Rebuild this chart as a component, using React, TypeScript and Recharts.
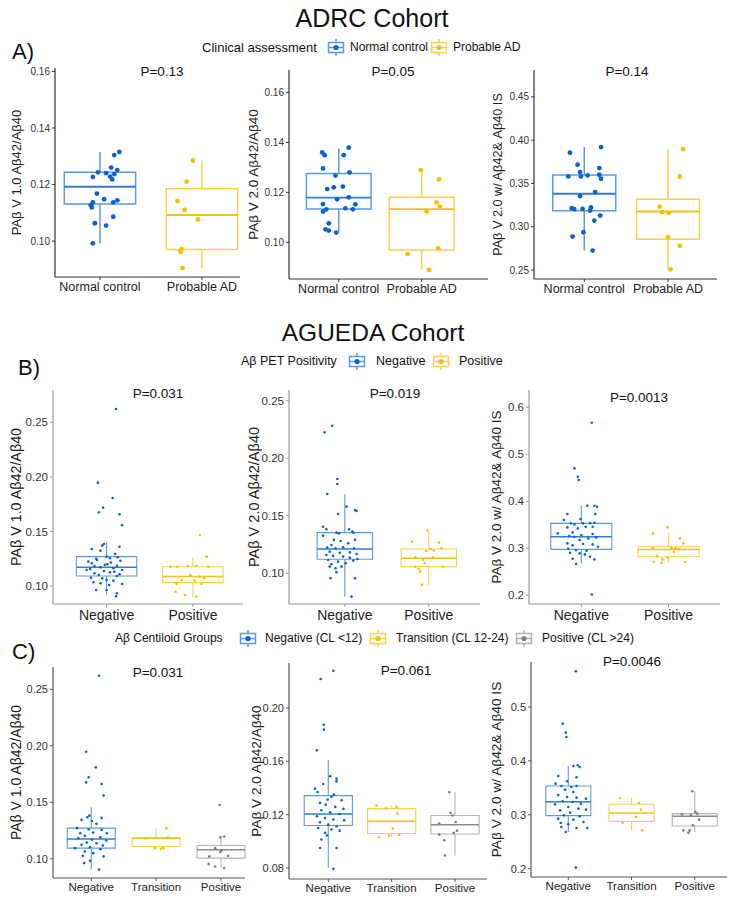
import React from 'react'
import { ComposedChart, XAxis, YAxis, Scatter, ReferenceArea, ReferenceLine } from 'recharts'

const FONT = '"Liberation Sans", Arial, Helvetica, sans-serif'

const BLUE = { pt: '#0b62cc', box: '#5a9be2', med: '#2f7dd6' }
const YELLOW = { pt: '#f6c000', box: '#f8d24f', med: '#f3c21c' }
const GREY = { pt: '#7d7d7d', box: '#b3b3b3', med: '#8a8a8a' }

// categories
const adrcGroups = ['Normal control', 'Probable AD']
const petGroups = ['Negative', 'Positive']
const clGroups = ['Negative', 'Transition', 'Positive']

// y labels
const labV1 = 'PAβ V 1.0 Aβ42/Aβ40'
const labV2 = 'PAβ V 2.0 Aβ42/Aβ40'
const labIS = 'PAβ V 2.0 w/ Aβ42& Aβ40 IS'

// y ticks
const ticksA12 = [0.1, 0.12, 0.14, 0.16]
const ticksA3 = [0.25, 0.3, 0.35, 0.4, 0.45]
const ticksB12 = [0.1, 0.15, 0.2, 0.25]
const ticksB3 = [0.2, 0.3, 0.4, 0.5, 0.6]
const ticksC1 = [0.1, 0.15, 0.2, 0.25]
const ticksC2 = [0.08, 0.12, 0.16, 0.2]
const ticksC3 = [0.2, 0.3, 0.4, 0.5]

// p values
const pA = ['P=0.13', 'P=0.05', 'P=0.14']
const pB = ['P=0.031', 'P=0.019', 'P=0.0013']
const pC = ['P=0.031', 'P=0.061', 'P=0.0046']

// box stats: [lower whisker, q1, median, q3, upper whisker]
// points: [jitter offset, value]

// ---- A1
const a1NcBox = [0.0992, 0.1131, 0.1192, 0.1243, 0.1315]
const a1NcPts: [number, number][] = [
  [0.19, 0.1315], [0.14, 0.1304], [0.11, 0.126], [0.17, 0.1251], [-0.02, 0.1243], [0.06, 0.124],
  [0.14, 0.1237], [0.1, 0.1228], [-0.07, 0.1227], [0.12, 0.1218], [-0.03, 0.1168], [0.04, 0.1148],
  [0.17, 0.1144], [0.13, 0.1137], [-0.07, 0.1137], [-0.09, 0.1127], [-0.08, 0.1119], [0.13, 0.1086],
  [-0.05, 0.1063], [0.06, 0.1055], [-0.07, 0.0992],
]
const a1AdBox = [0.0905, 0.097, 0.1092, 0.1185, 0.1285]
const a1AdPts: [number, number][] = [
  [-0.09, 0.1285], [-0.15, 0.121], [-0.24, 0.1142], [-0.17, 0.111], [-0.04, 0.1077],
  [-0.2, 0.0972], [-0.21, 0.0962], [-0.19, 0.0905],
]

// ---- A2
const a2NcBox = [0.1043, 0.1133, 0.1179, 0.1276, 0.1376]
const a2NcPts: [number, number][] = [
  [-0.2, 0.136], [-0.17, 0.1349], [0.12, 0.1379], [0.06, 0.1349], [-0.19, 0.1296], [0.13, 0.128],
  [-0.04, 0.1267], [-0.06, 0.122], [-0.14, 0.1213], [0.05, 0.1223], [0.12, 0.118], [-0.02, 0.1172],
  [-0.19, 0.1153], [0.2, 0.1152], [0.08, 0.1136], [0.17, 0.1132], [-0.15, 0.1132], [-0.19, 0.1123],
  [-0.12, 0.1076], [-0.16, 0.1052], [-0.12, 0.1047], [-0.03, 0.1039],
]
const a2AdBox = [0.0892, 0.0969, 0.1133, 0.118, 0.1289]
const a2AdPts: [number, number][] = [
  [-0.01, 0.1289], [0.21, 0.1252], [0.18, 0.1159], [0.22, 0.1143], [0.06, 0.1123],
  [0.2, 0.0976], [-0.17, 0.0953], [0.09, 0.0889],
]

// ---- A3
const a3NcBox = [0.2724, 0.3183, 0.338, 0.3596, 0.392]
const a3NcPts: [number, number][] = [
  [0.1, 0.2724], [-0.01, 0.2936], [-0.14, 0.2886], [0.12, 0.3071], [0.19, 0.3129], [-0.12, 0.3203],
  [-0.15, 0.3214], [-0.02, 0.3207], [0.08, 0.3222], [0.07, 0.3187], [-0.05, 0.3353], [0.13, 0.34],
  [-0.19, 0.3581], [-0.04, 0.3581], [0.04, 0.3593], [0.18, 0.36], [0.2, 0.3554], [-0.05, 0.3631],
  [-0.08, 0.3716], [0.18, 0.3677], [-0.17, 0.3855], [0.2, 0.392],
]
const a3AdBox = [0.2508, 0.2855, 0.3176, 0.3318, 0.3897]
const a3AdPts: [number, number][] = [
  [0.18, 0.3897], [0.14, 0.358], [-0.1, 0.3233], [-0.07, 0.3168], [0.01, 0.316],
  [0.0, 0.2878], [0.14, 0.2778], [0.03, 0.2508],
]

// ---- B1
const b1NegBox = [0.0918, 0.1092, 0.1171, 0.1269, 0.1397]
const b1NegPts: [number, number][] = [
  [0.11, 0.2622], [-0.1, 0.1947], [0.07, 0.1807], [-0.04, 0.1718], [-0.09, 0.1675], [0.15, 0.1657],
  [0.18, 0.1556], [-0.03, 0.1385], [-0.05, 0.137], [0.15, 0.136], [-0.17, 0.1339], [-0.07, 0.1324],
  [0.1, 0.1293], [0.0, 0.1269], [0.13, 0.1263], [0.04, 0.1254], [-0.11, 0.1238], [-0.21, 0.1223],
  [-0.17, 0.1208], [0.16, 0.1232], [-0.14, 0.1183], [-0.07, 0.1171], [0.08, 0.1162], [0.12, 0.1186],
  [0.01, 0.1199], [0.18, 0.1147], [-0.23, 0.1147], [-0.03, 0.1137], [0.04, 0.1125], [-0.14, 0.1116],
  [-0.09, 0.1101], [0.12, 0.1092], [-0.18, 0.1076], [-0.05, 0.107], [0.0, 0.1055], [0.08, 0.1049],
  [0.18, 0.1018], [-0.15, 0.1034], [-0.07, 0.1024], [0.03, 0.1009], [-0.12, 0.0963], [0.0, 0.0963],
  [0.12, 0.0933], [0.11, 0.0905], [0.05, 0.1215], [-0.19, 0.1155], [0.15, 0.1108], [-0.02, 0.1195],
  [0.09, 0.113], [-0.12, 0.125],
]
const b1PosBox = [0.0896, 0.1031, 0.1086, 0.1177, 0.1263]
const b1PosPts: [number, number][] = [
  [0.08, 0.1467], [0.16, 0.1269], [-0.18, 0.1177], [-0.06, 0.1183], [0.04, 0.1186], [0.18, 0.1177],
  [-0.26, 0.1177], [-0.03, 0.1101], [0.08, 0.1086], [0.13, 0.107], [-0.13, 0.1055], [0.02, 0.1049],
  [-0.19, 0.1018], [0.1, 0.1018], [-0.2, 0.0948], [-0.09, 0.0918], [0.04, 0.0902],
]

// ---- B2
const b2NegBox = [0.0797, 0.1122, 0.1211, 0.1353, 0.1689]
const b2NegPts: [number, number][] = [
  [-0.15, 0.2282], [-0.24, 0.2225], [-0.09, 0.1819], [-0.09, 0.1776], [-0.21, 0.1689], [0.02, 0.1579],
  [0.12, 0.155], [0.14, 0.1541], [-0.08, 0.1515], [-0.26, 0.1405], [-0.22, 0.1382], [0.05, 0.1382],
  [0.09, 0.1362], [-0.1, 0.1353], [-0.07, 0.1347], [0.1, 0.1353], [0.12, 0.129], [-0.13, 0.129],
  [-0.26, 0.1327], [-0.05, 0.1281], [-0.16, 0.1246], [0.04, 0.1261], [-0.21, 0.1223], [-0.11, 0.1217],
  [-0.02, 0.1226], [0.11, 0.1217], [-0.18, 0.1188], [-0.06, 0.1179], [0.06, 0.1182], [0.14, 0.1168],
  [-0.22, 0.1159], [-0.14, 0.1151], [-0.02, 0.1145], [0.06, 0.1136], [0.15, 0.1124], [-0.2, 0.1116],
  [-0.08, 0.1101], [0.01, 0.1087], [-0.16, 0.1078], [-0.04, 0.1058], [-0.11, 0.1043], [-0.18, 0.1058],
  [0.1, 0.111], [-0.1, 0.1009], [-0.17, 0.0957], [0.12, 0.0957], [0.08, 0.0797],
]
const b2PosBox = [0.0899, 0.1058, 0.113, 0.1211, 0.1376]
const b2PosPts: [number, number][] = [
  [-0.02, 0.1371], [-0.2, 0.1275], [0.12, 0.1266], [0.02, 0.1211], [0.06, 0.1197], [-0.03, 0.1194],
  [0.15, 0.1217], [-0.16, 0.1139], [0.05, 0.1139], [-0.07, 0.1116], [-0.05, 0.1087], [-0.16, 0.1058],
  [-0.12, 0.1038], [0.17, 0.1058], [-0.1, 0.1014], [-0.08, 0.0899],
]

// ---- B3
const b3NegBox = [0.2675, 0.2973, 0.3243, 0.3528, 0.3904]
const b3NegPts: [number, number][] = [
  [0.12, 0.5673], [-0.08, 0.47], [-0.04, 0.4522], [-0.03, 0.4451], [0.07, 0.3904], [0.15, 0.3904],
  [0.18, 0.3883], [-0.16, 0.3727], [0.16, 0.3727], [-0.01, 0.362], [-0.2, 0.3599], [-0.12, 0.3528],
  [-0.08, 0.3506], [0.02, 0.3528], [0.1, 0.3528], [0.15, 0.3542], [-0.16, 0.3442], [-0.04, 0.3421],
  [0.05, 0.3457], [0.13, 0.3457], [-0.27, 0.3314], [-0.1, 0.3336], [0.0, 0.3279], [0.13, 0.33],
  [-0.14, 0.3258], [-0.08, 0.3243], [0.08, 0.3208], [0.17, 0.3229], [-0.02, 0.3172], [-0.16, 0.3101],
  [0.02, 0.3087], [0.13, 0.308], [-0.1, 0.3059], [0.19, 0.303], [-0.15, 0.2988], [-0.06, 0.2959],
  [0.06, 0.2945], [-0.02, 0.2888], [-0.13, 0.2902], [0.04, 0.2867], [0.1, 0.2817], [-0.1, 0.2774],
  [0.15, 0.276], [-0.06, 0.2661], [0.12, 0.2014],
]
const b3PosBox = [0.2689, 0.2817, 0.2973, 0.303, 0.3314]
const b3PosPts: [number, number][] = [
  [-0.01, 0.3442], [-0.18, 0.3314], [0.13, 0.3208], [0.17, 0.3101], [-0.18, 0.3], [0.03, 0.3009],
  [0.08, 0.3], [0.06, 0.2924], [0.12, 0.2981], [-0.13, 0.2831], [-0.01, 0.2803], [-0.17, 0.2711],
  [-0.08, 0.2689], [0.19, 0.2711], [-0.07, 0.276],
]

// ---- C1
const c1NegBox = [0.0905, 0.1094, 0.1176, 0.1271, 0.1456]
const c1NegPts: [number, number][] = [
  [0.12, 0.262], [-0.08, 0.1947], [0.07, 0.1809], [-0.04, 0.1721], [-0.08, 0.1676], [0.16, 0.1662],
  [0.19, 0.1559], [-0.03, 0.1382], [-0.06, 0.1368], [0.16, 0.1362], [-0.15, 0.1344], [0.01, 0.1335],
  [0.08, 0.1309], [-0.22, 0.1271], [-0.04, 0.1262], [0.16, 0.1256], [-0.17, 0.1226], [0.03, 0.1232],
  [0.24, 0.1226], [-0.1, 0.1203], [0.14, 0.1191], [-0.2, 0.1182], [0.01, 0.1168], [0.23, 0.1162],
  [-0.07, 0.1144], [0.08, 0.1138], [-0.15, 0.1124], [0.18, 0.1118], [-0.02, 0.1103], [-0.25, 0.1094],
  [0.14, 0.1085], [-0.1, 0.1065], [0.03, 0.105], [0.19, 0.1021], [-0.13, 0.1026], [-0.02, 0.0982],
  [-0.11, 0.0962], [0.12, 0.0905],
]
const c1TrBox = [0.1088, 0.1109, 0.1182, 0.1188, 0.1271]
const c1TrPts: [number, number][] = [
  [0.16, 0.1271], [-0.16, 0.1182], [0.18, 0.1188], [-0.02, 0.1094], [0.07, 0.1088], [0.11, 0.1094],
]
const c1PosBox = [0.0918, 0.1006, 0.1079, 0.1118, 0.1197]
const c1PosPts: [number, number][] = [
  [-0.02, 0.1476], [-0.01, 0.1191], [0.05, 0.1197], [-0.09, 0.1094], [0.01, 0.1074], [-0.01, 0.1059],
  [0.11, 0.1026], [-0.18, 0.1021], [-0.19, 0.0953], [-0.09, 0.0932], [0.05, 0.0918],
]

// ---- C2
const c2NegBox = [0.08, 0.1118, 0.1205, 0.1343, 0.1608]
const c2NegPts: [number, number][] = [
  [0.08, 0.228], [-0.12, 0.2218], [-0.07, 0.1875], [-0.07, 0.1838], [-0.18, 0.1683], [0.03, 0.1488],
  [0.13, 0.147], [0.13, 0.145], [-0.08, 0.143], [-0.21, 0.1395], [-0.17, 0.137], [0.09, 0.135],
  [0.05, 0.1333], [-0.01, 0.1313], [0.21, 0.1308], [-0.13, 0.1288], [-0.04, 0.1275], [0.11, 0.1258],
  [0.24, 0.1243], [-0.11, 0.1233], [0.03, 0.1218], [0.18, 0.1205], [-0.18, 0.1188], [-0.05, 0.1175],
  [0.08, 0.1163], [0.25, 0.1158], [-0.13, 0.1143], [0.0, 0.1125], [0.13, 0.1113], [-0.16, 0.11],
  [0.05, 0.1088], [0.18, 0.108], [-0.05, 0.1063], [-0.02, 0.1043], [-0.11, 0.1013], [-0.13, 0.095],
  [0.13, 0.095], [0.08, 0.0793],
]
const c2TrBox = [0.103, 0.1058, 0.115, 0.1245, 0.1268]
const c2TrPts: [number, number][] = [
  [-0.24, 0.1268], [0.08, 0.1258], [0.09, 0.1208], [-0.09, 0.1248], [0.02, 0.1095], [-0.2, 0.103],
  [-0.04, 0.1043], [0.12, 0.105],
]
const c2PosBox = [0.0893, 0.1055, 0.1125, 0.1193, 0.137]
const c2PosPts: [number, number][] = [
  [-0.09, 0.1368], [-0.07, 0.1213], [-0.04, 0.1193], [-0.25, 0.1133], [0.01, 0.1145], [-0.25, 0.105],
  [-0.02, 0.1063], [0.03, 0.108], [-0.17, 0.1008], [-0.16, 0.0893],
]

// ---- C3
const c3NegBox = [0.268, 0.2984, 0.3243, 0.3534, 0.3905]
const c3NegPts: [number, number][] = [
  [0.12, 0.5662], [-0.09, 0.4691], [-0.04, 0.4524], [-0.03, 0.4443], [0.15, 0.3918], [0.08, 0.3905],
  [0.18, 0.3887], [-0.16, 0.372], [0.13, 0.3695], [-0.02, 0.3621], [-0.2, 0.3577], [-0.11, 0.3534],
  [0.05, 0.3516], [0.13, 0.3534], [-0.05, 0.3466], [0.08, 0.3423], [-0.16, 0.3367], [-0.02, 0.333],
  [0.13, 0.3318], [0.28, 0.3299], [-0.09, 0.325], [0.07, 0.3237], [0.2, 0.3206], [-0.21, 0.3194],
  [0.0, 0.3144], [0.16, 0.3113], [-0.13, 0.3083], [0.28, 0.3095], [0.03, 0.3039], [-0.07, 0.299],
  [0.18, 0.2971], [-0.16, 0.2928], [0.08, 0.2909], [-0.12, 0.2848], [0.0, 0.2823], [0.24, 0.2866],
  [-0.11, 0.2773], [0.13, 0.2755], [0.3, 0.2755], [-0.04, 0.268], [0.12, 0.2019],
]
const c3TrBox = [0.2711, 0.2878, 0.3033, 0.3194, 0.3311]
const c3TrPts: [number, number][] = [
  [-0.18, 0.3311], [0.12, 0.3219], [0.15, 0.3095], [0.07, 0.2959], [-0.14, 0.2854], [0.17, 0.2711],
]
const c3PosBox = [0.268, 0.2792, 0.2971, 0.3021, 0.3435]
const c3PosPts: [number, number][] = [
  [-0.04, 0.3435], [0.01, 0.3052], [0.04, 0.3021], [-0.2, 0.3008], [-0.06, 0.299], [0.07, 0.2909],
  [-0.03, 0.2804], [-0.18, 0.2711], [-0.08, 0.2711], [-0.1, 0.2668],
]

type Geo = { labelX: number; plotLeft: number; plotRight: number; plotTop: number; plotBottom: number }
type Grp = { box: number[]; pts: [number, number][]; col: { pt: string; box: string; med: string } }

type PanelProps = {
  geo: Geo
  cats: string[]
  xDomain: [number, number]
  yDomain: [number, number]
  yTicks: number[]
  dec: number
  yLabel: string
  labelSize: number
  tickFont: number
  catFont: number
  catMargin: number
  axisColor: string
  hw: number
  groups: Grp[]
  ptR: number
  boxW: number
}

function Panel(p: PanelProps) {
  const { geo } = p
  const left = geo.labelX - 8
  const top = geo.plotTop - 4
  const width = geo.plotRight + 4 - left
  const height = geo.plotBottom + 26 - top
  const marks: React.ReactNode[] = []
  p.groups.forEach((g, i) => {
    const c = i + 1
    const [lo, q1, med, q3, hi] = g.box
    marks.push(
      <ReferenceLine key={`wl${i}`} segment={[{ x: c, y: lo }, { x: c, y: q1 }]} stroke={g.col.box} strokeWidth={p.boxW} />,
      <ReferenceLine key={`wh${i}`} segment={[{ x: c, y: q3 }, { x: c, y: hi }]} stroke={g.col.box} strokeWidth={p.boxW} />,
      <ReferenceArea key={`bx${i}`} x1={c - p.hw} x2={c + p.hw} y1={q1} y2={q3} fill="#ffffff" fillOpacity={0} stroke={g.col.box} strokeWidth={p.boxW} />,
      <ReferenceLine key={`md${i}`} segment={[{ x: c - p.hw, y: med }, { x: c + p.hw, y: med }]} stroke={g.col.med} strokeWidth={p.boxW + 0.4} />,
    )
  })
  p.groups.forEach((g, i) => {
    const c = i + 1
    const data = g.pts.map(([dx, v]) => ({ x: c + dx, y: v }))
    marks.push(
      <Scatter
        key={`pt${i}`}
        data={data}
        isAnimationActive={false}
        shape={(s: any) => <circle cx={s.cx} cy={s.cy} r={p.ptR} fill={g.col.pt} />}
      />,
    )
  })
  return (
    <div style={{ position: 'absolute', left, top }}>
      <ComposedChart width={width} height={height} margin={{ top: 4, right: 4, bottom: 0, left: 0 }}>
        <XAxis
          type="number"
          dataKey="x"
          domain={p.xDomain}
          ticks={p.cats.map((_, i) => i + 1)}
          tickFormatter={(v: number) => p.cats[Math.round(v) - 1]}
          interval={0}
          height={26}
          tickSize={3}
          tickMargin={p.catMargin}
          allowDataOverflow
          axisLine={{ stroke: p.axisColor, strokeWidth: 1.2 }}
          tickLine={{ stroke: p.axisColor }}
          tick={{ fontSize: p.catFont, fill: '#222' }}
        />
        <YAxis
          type="number"
          dataKey="y"
          domain={p.yDomain}
          ticks={p.yTicks}
          tickFormatter={(v: number) => v.toFixed(p.dec)}
          interval={0}
          width={geo.plotLeft - left}
          tickSize={3}
          tickMargin={2}
          allowDataOverflow
          axisLine={{ stroke: p.axisColor, strokeWidth: 1.2 }}
          tickLine={{ stroke: p.axisColor }}
          tick={{ fontSize: p.tickFont, fill: '#333' }}
          label={{
            value: p.yLabel,
            angle: -90,
            position: 'insideLeft',
            offset: 8,
            style: { textAnchor: 'middle', fontSize: p.labelSize, fill: '#222' },
          }}
        />
        {marks}
      </ComposedChart>
    </div>
  )
}

function Txt({ x, y, size, children, center = true }: { x: number; y: number; size: number; children: React.ReactNode; center?: boolean }) {
  return (
    <div
      style={{
        position: 'absolute',
        left: x,
        top: y,
        fontSize: size,
        lineHeight: 1,
        whiteSpace: 'nowrap',
        color: '#111',
        transform: center ? 'translate(-50%, -50%)' : 'translate(0, -50%)',
      }}
    >
      {children}
    </div>
  )
}

function Key({ x, y, col }: { x: number; y: number; col: { pt: string; box: string } }) {
  return (
    <svg width={18} height={17} style={{ position: 'absolute', left: x, top: y - 8.5 }}>
      <line x1={9} y1={0} x2={9} y2={17} stroke={col.box} strokeWidth={1.5} />
      <rect x={1.5} y={3.5} width={15} height={10} fill="#fff" stroke={col.box} strokeWidth={1.5} />
      <line x1={1.5} y1={8.5} x2={16.5} y2={8.5} stroke={col.box} strokeWidth={1.5} />
      <circle cx={9} cy={8.5} r={2.6} fill={col.pt} />
    </svg>
  )
}

export default function App() {
  const aCommon = { tickFont: 10, catFont: 12.5, catMargin: 2, axisColor: '#333', ptR: 2.4, boxW: 1.5 }
  const bCommon = { tickFont: 11.5, catFont: 14, catMargin: 3, axisColor: '#999', ptR: 1.3, boxW: 1.1 }
  const cCommon = { tickFont: 11, catFont: 11.5, catMargin: 2, axisColor: '#555', ptR: 1.3, boxW: 1.1 }
  return (
    <div style={{ position: 'absolute', left: 0, top: 0, width: 736, height: 899, background: '#fff', fontFamily: FONT, overflow: 'hidden' }}>
      <Txt x={372} y={18} size={25}>ADRC Cohort</Txt>
      <Txt x={12} y={52} size={22} center={false}>A)</Txt>
      <Txt x={202} y={47} size={13} center={false}>Clinical assessment</Txt>
      <Key x={327} y={47} col={BLUE} />
      <Txt x={350} y={47} size={12} center={false}>{adrcGroups[0]}</Txt>
      <Key x={430} y={47} col={YELLOW} />
      <Txt x={453} y={47} size={12} center={false}>{adrcGroups[1]}</Txt>

      <Panel {...aCommon} geo={{ labelX: 16, plotLeft: 55, plotRight: 240, plotTop: 68, plotBottom: 277 }}
        cats={adrcGroups} xDomain={[0.559, 2.373]} yDomain={[0.0873, 0.1612]} yTicks={ticksA12} dec={2}
        yLabel={labV1} labelSize={13} hw={0.35}
        groups={[{ box: a1NcBox, pts: a1NcPts, col: BLUE }, { box: a1AdBox, pts: a1AdPts, col: YELLOW }]} />
      <Panel {...aCommon} geo={{ labelX: 253, plotLeft: 289, plotRight: 488, plotTop: 70, plotBottom: 279 }}
        cats={adrcGroups} xDomain={[0.4, 2.8]} yDomain={[0.0853, 0.169]} yTicks={ticksA12} dec={2}
        yLabel={labV2} labelSize={13.5} hw={0.39}
        groups={[{ box: a2NcBox, pts: a2NcPts, col: BLUE }, { box: a2AdBox, pts: a2AdPts, col: YELLOW }]} />
      <Panel {...aCommon} geo={{ labelX: 497, plotLeft: 534, plotRight: 717, plotTop: 70, plotBottom: 279 }}
        cats={adrcGroups} xDomain={[0.4, 2.585]} yDomain={[0.2396, 0.481]} yTicks={ticksA3} dec={2}
        yLabel={labIS} labelSize={12.7} hw={0.376}
        groups={[{ box: a3NcBox, pts: a3NcPts, col: BLUE }, { box: a3AdBox, pts: a3AdPts, col: YELLOW }]} />
      <Txt x={162} y={72} size={13.5}>{pA[0]}</Txt>
      <Txt x={393} y={72} size={13.5}>{pA[1]}</Txt>
      <Txt x={627} y={72} size={13.5}>{pA[2]}</Txt>

      <Txt x={373} y={333} size={24.5}>AGUEDA Cohort</Txt>
      <Txt x={18} y={368} size={22} center={false}>B)</Txt>
      <Txt x={241} y={361} size={12.5} center={false}>Aβ PET Positivity</Txt>
      <Key x={348} y={361} col={BLUE} />
      <Txt x={376} y={361} size={12.5} center={false}>{petGroups[0]}</Txt>
      <Key x={432} y={361} col={YELLOW} />
      <Txt x={459} y={361} size={12.5} center={false}>{petGroups[1]}</Txt>

      <Panel {...bCommon} geo={{ labelX: 16, plotLeft: 53, plotRight: 243, plotTop: 390, plotBottom: 604 }}
        cats={petGroups} xDomain={[0.38, 2.58]} yDomain={[0.0835, 0.2796]} yTicks={ticksB12} dec={2}
        yLabel={labV1} labelSize={14.3} hw={0.35}
        groups={[{ box: b1NegBox, pts: b1NegPts, col: BLUE }, { box: b1PosBox, pts: b1PosPts, col: YELLOW }]} />
      <Panel {...bCommon} geo={{ labelX: 254, plotLeft: 289, plotRight: 480, plotTop: 390, plotBottom: 604 }}
        cats={petGroups} xDomain={[0.335, 2.61]} yDomain={[0.0733, 0.2593]} yTicks={ticksB12} dec={2}
        yLabel={labV2} labelSize={14.5} hw={0.33}
        groups={[{ box: b2NegBox, pts: b2NegPts, col: BLUE }, { box: b2PosBox, pts: b2PosPts, col: YELLOW }]} />
      <Panel {...bCommon} geo={{ labelX: 496, plotLeft: 529, plotRight: 720, plotTop: 390, plotBottom: 604 }}
        cats={petGroups} xDomain={[0.4, 2.59]} yDomain={[0.181, 0.637]} yTicks={ticksB3} dec={1}
        yLabel={labIS} labelSize={13.5} hw={0.35}
        groups={[{ box: b3NegBox, pts: b3NegPts, col: BLUE }, { box: b3PosBox, pts: b3PosPts, col: YELLOW }]} />
      <Txt x={158} y={394} size={13.5}>{pB[0]}</Txt>
      <Txt x={395} y={394} size={13.5}>{pB[1]}</Txt>
      <Txt x={639} y={398} size={13.5}>{pB[2]}</Txt>

      <Txt x={12} y={652} size={22} center={false}>C)</Txt>
      <Txt x={115} y={638} size={12} center={false}>Aβ Centiloid Groups</Txt>
      <Key x={239} y={638} col={BLUE} />
      <Txt x={265} y={638} size={12} center={false}>Negative (CL &lt;12)</Txt>
      <Key x={369} y={638} col={YELLOW} />
      <Txt x={396} y={638} size={12} center={false}>Transition (CL 12-24)</Txt>
      <Key x={515} y={638} col={GREY} />
      <Txt x={542} y={638} size={12} center={false}>Positive (CL &gt;24)</Txt>

      <Panel {...cCommon} geo={{ labelX: 16, plotLeft: 53, plotRight: 245, plotTop: 667, plotBottom: 878 }}
        cats={clGroups} xDomain={[0.41, 3.37]} yDomain={[0.083, 0.2697]} yTicks={ticksC1} dec={2}
        yLabel={labV1} labelSize={14} hw={0.37}
        groups={[{ box: c1NegBox, pts: c1NegPts, col: BLUE }, { box: c1TrBox, pts: c1TrPts, col: YELLOW }, { box: c1PosBox, pts: c1PosPts, col: GREY }]} />
      <Panel {...cCommon} geo={{ labelX: 256, plotLeft: 289, plotRight: 487, plotTop: 663, plotBottom: 879 }}
        cats={clGroups} xDomain={[0.38, 3.505]} yDomain={[0.0717, 0.2338]} yTicks={ticksC2} dec={2}
        yLabel={labV2} labelSize={13.6} hw={0.38}
        groups={[{ box: c2NegBox, pts: c2NegPts, col: BLUE }, { box: c2TrBox, pts: c2TrPts, col: YELLOW }, { box: c2PosBox, pts: c2PosPts, col: GREY }]} />
      <Panel {...cCommon} geo={{ labelX: 496, plotLeft: 531, plotRight: 727, plotTop: 662, plotBottom: 877 }}
        cats={clGroups} xDomain={[0.41, 3.51]} yDomain={[0.1845, 0.5835]} yTicks={ticksC3} dec={1}
        yLabel={labIS} labelSize={13.7} hw={0.356}
        groups={[{ box: c3NegBox, pts: c3NegPts, col: BLUE }, { box: c3TrBox, pts: c3TrPts, col: YELLOW }, { box: c3PosBox, pts: c3PosPts, col: GREY }]} />
      <Txt x={158} y={673} size={13.5}>{pC[0]}</Txt>
      <Txt x={406} y={671} size={13.5}>{pC[1]}</Txt>
      <Txt x={632} y={662} size={13.5}>{pC[2]}</Txt>
    </div>
  )
}
